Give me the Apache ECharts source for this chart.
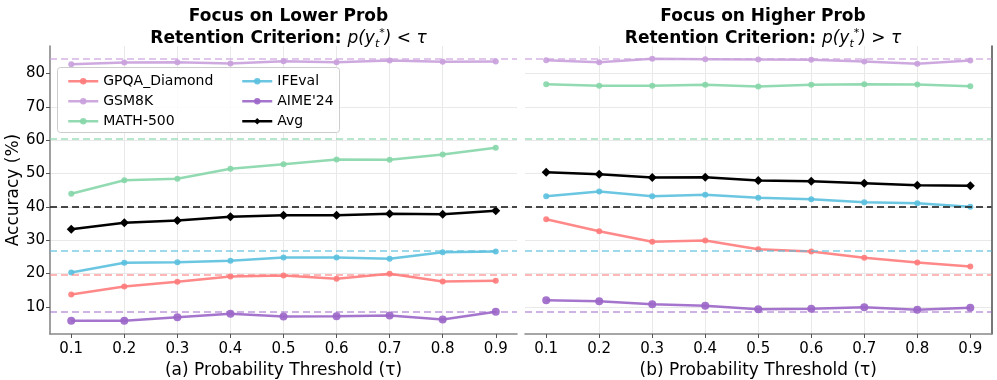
<!DOCTYPE html>
<html>
<head>
<meta charset="utf-8">
<script src="https://cdn.jsdelivr.net/npm/echarts@6/dist/echarts.min.js"></script>
<style>html,body{margin:0;padding:0;background:#fff;}#c{width:997px;height:380px;}</style>
</head>
<body>
<div id="c"></div>
<script>
const taus = [0.1, 0.2, 0.3, 0.4, 0.5, 0.6, 0.7, 0.8, 0.9];
const tickLabelsX = [0.1, 0.2, 0.3, 0.4, 0.5, 0.6, 0.7, 0.8, 0.9];
const tickLabelsY = [10, 20, 30, 40, 50, 60, 70, 80];
const seriesNames = ['GPQA_Diamond', 'GSM8K', 'MATH-500', 'IFEval', "AIME'24", 'Avg'];

// (a) Focus on lower prob
const lowGPQA   = [13.7, 16.1, 17.5, 19.1, 19.4, 18.4, 19.9, 17.6, 17.8];
const lowGSM8K  = [82.8, 83.3, 83.4, 83.0, 83.7, 83.4, 83.9, 83.5, 83.6];
const lowMATH   = [43.9, 48.0, 48.4, 51.4, 52.8, 54.2, 54.1, 55.7, 57.7];
const lowIFEval = [20.3, 23.2, 23.4, 23.8, 24.8, 24.8, 24.4, 26.4, 26.6];
const lowAIME   = [5.8, 5.8, 6.9, 7.9, 7.1, 7.2, 7.4, 6.2, 8.5];
const lowAvg    = [33.3, 35.2, 35.9, 37.0, 37.5, 37.5, 37.9, 37.8, 38.8];

// (b) Focus on higher prob
const highGPQA   = [36.3, 32.7, 29.5, 29.9, 27.3, 26.6, 24.7, 23.3, 22.1];
const highGSM8K  = [84.0, 83.4, 84.4, 84.3, 84.2, 84.1, 83.6, 82.9, 83.9];
const highMATH   = [76.8, 76.3, 76.3, 76.6, 76.1, 76.6, 76.8, 76.7, 76.2];
const highIFEval = [43.2, 44.6, 43.2, 43.6, 42.7, 42.3, 41.4, 41.1, 40.0];
const highAIME   = [12.0, 11.7, 10.8, 10.3, 9.3, 9.4, 9.9, 9.1, 9.7];
const highAvg    = [50.4, 49.8, 48.8, 48.9, 47.9, 47.7, 47.1, 46.5, 46.3];

// baselines (dashed horizontal lines)
const baselines = [19.6, 84.3, 60.5, 26.8, 8.5, 39.9];

const colors = ['#ff7b7b', '#c9a0dc', '#86d6a8', '#5bc0de', '#9b66c8', '#000000'];
const baseColors = ['rgba(255,123,123,0.55)', 'rgba(201,160,220,0.6)', 'rgba(134,214,168,0.6)', 'rgba(91,192,222,0.6)', 'rgba(155,102,200,0.5)', 'rgba(40,40,40,0.85)'];
const symbols = ['circle', 'circle', 'circle', 'circle', 'circle', 'diamond'];
const symbolSizes = [6, 6, 6, 6, 8, 9];

const lowSets = [lowGPQA, lowGSM8K, lowMATH, lowIFEval, lowAIME, lowAvg];
const highSets = [highGPQA, highGSM8K, highMATH, highIFEval, highAIME, highAvg];

const FONT = 'DejaVu Sans';
const zip = (vals) => taus.map((t, i) => [t, vals[i]]);

function makeSeries(sets, gi) {
  const out = sets.map((vals, k) => ({
    name: seriesNames[k],
    type: 'line',
    xAxisIndex: gi, yAxisIndex: gi,
    data: zip(vals),
    symbol: symbols[k],
    symbolSize: symbolSizes[k],
    showSymbol: true,
    z: 3,
    lineStyle: { color: colors[k], width: 2.5, opacity: k === 5 ? 1 : 0.9 },
    itemStyle: { color: colors[k], opacity: k === 5 ? 1 : 0.9 },
    emphasis: { disabled: true },
    animation: false
  }));
  out.push({
    name: 'baseline' + gi,
    type: 'line',
    xAxisIndex: gi, yAxisIndex: gi,
    data: [],
    z: 2,
    animation: false,
    markLine: {
      silent: true,
      symbol: ['none', 'none'],
      label: { show: false },
      animation: false,
      data: baselines.map((b, k) => ({
        yAxis: b,
        lineStyle: { color: baseColors[k], type: [7, 4], width: 2 }
      }))
    }
  });
  return out;
}

function xAxisCfg(gi, name) {
  return {
    type: 'value', gridIndex: gi,
    min: 0.06, max: 0.94, splitNumber: 9,
    name: name, nameLocation: 'middle', nameGap: 19,
    nameTextStyle: { fontFamily: FONT, fontSize: 17, color: '#000' },
    axisLine: { show: true, lineStyle: { color: '#888', width: 1.6 } },
    axisTick: { show: true, length: 4, lineStyle: { color: '#555' }, customValues: tickLabelsX },
    axisLabel: { fontFamily: FONT, fontSize: 15, color: '#000', margin: 8, customValues: tickLabelsX,
      formatter: v => v.toFixed(1) },
    splitLine: { show: true, showMinLine: false, showMaxLine: false, lineStyle: { color: '#e9e9e9', width: 1 } }
  };
}

function titleRich() {
  return {
    b: { fontFamily: FONT, fontWeight: 'bold', fontSize: 17, color: '#000', lineHeight: 22 },
    m: { fontFamily: FONT, fontWeight: 'normal', fontStyle: 'italic', fontSize: 17, color: '#000', lineHeight: 22 },
    sub: { fontFamily: FONT, fontWeight: 'normal', fontStyle: 'italic', fontSize: 11, color: '#000', lineHeight: 22, verticalAlign: 'bottom' },
    sup: { fontFamily: FONT, fontWeight: 'normal', fontSize: 11, color: '#000', lineHeight: 22, verticalAlign: 'top' }
  };
}

function legendCfg(left, names) {
  return {
    orient: 'vertical', left: left, top: 69, itemWidth: 30, itemHeight: 8, itemGap: 5.5,
    z: 10,
    data: names,
    lineStyle: { width: 2.5 },
    textStyle: { fontFamily: FONT, fontSize: 14, color: '#000', lineHeight: 14.5 },
    selectedMode: false
  };
}

const option = {
  backgroundColor: '#ffffff',
  animation: false,
  title: [
    {
      left: 283.5, top: 1, textAlign: 'center',
      text: '{b|Focus on Lower Prob}\n{b|Retention Criterion: }{m|p(y}{sub|t}{sup|*}{m|) < τ}',
      textStyle: { fontWeight: 'normal', rich: titleRich() }
    },
    {
      left: 758, top: 1, textAlign: 'center',
      text: '{b|Focus on Higher Prob}\n{b|Retention Criterion: }{m|p(y}{sub|t}{sup|*}{m|) > τ}',
      textStyle: { fontWeight: 'normal', rich: titleRich() }
    }
  ],
  grid: [
    { left: 50, top: 46, width: 467, height: 288, outerBoundsMode: 'none', containLabel: false },
    { left: 525, top: 46, width: 466.5, height: 288, outerBoundsMode: 'none', containLabel: false }
  ],
  xAxis: [
    xAxisCfg(0, '(a) Probability Threshold (τ)'),
    xAxisCfg(1, '(b) Probability Threshold (τ)')
  ],
  yAxis: [
    {
      type: 'value', gridIndex: 0, min: 1.85, max: 88.25, splitNumber: 9,
      name: 'Accuracy (%)', nameLocation: 'middle', nameGap: 21,
      nameTextStyle: { fontFamily: FONT, fontSize: 17, color: '#000' },
      axisLine: { show: true, lineStyle: { color: '#888', width: 1.6 } },
      axisTick: { show: true, length: 4, lineStyle: { color: '#555' }, customValues: tickLabelsY },
      axisLabel: { fontFamily: FONT, fontSize: 15, color: '#000', margin: 5, customValues: tickLabelsY },
      splitLine: { show: true, showMinLine: false, showMaxLine: false, lineStyle: { color: '#e9e9e9', width: 1 } }
    },
    {
      type: 'value', gridIndex: 1, min: 1.85, max: 88.25, splitNumber: 9, position: 'right',
      axisLine: { show: true, lineStyle: { color: '#555', width: 1.6 } },
      axisTick: { show: false },
      axisLabel: { show: false },
      splitLine: { show: true, showMinLine: false, showMaxLine: false, lineStyle: { color: '#e9e9e9', width: 1 } }
    }
  ],
  legend: [
    legendCfg(62, [seriesNames[0], seriesNames[1], seriesNames[2]]),
    legendCfg(236, [seriesNames[3], seriesNames[4], seriesNames[5]])
  ],
  graphic: [
    {
      type: 'rect', z: 5, silent: true,
      shape: { x: 57.5, y: 67.5, width: 282, height: 65, r: 3 },
      style: { fill: 'rgba(255,255,255,0.85)', stroke: '#cccccc', lineWidth: 1 }
    }
  ],
  series: [].concat(makeSeries(lowSets, 0), makeSeries(highSets, 1))
};

const chart = echarts.init(document.getElementById('c'), null, { renderer: 'canvas' });
chart.setOption(option);
</script>
</body>
</html>
